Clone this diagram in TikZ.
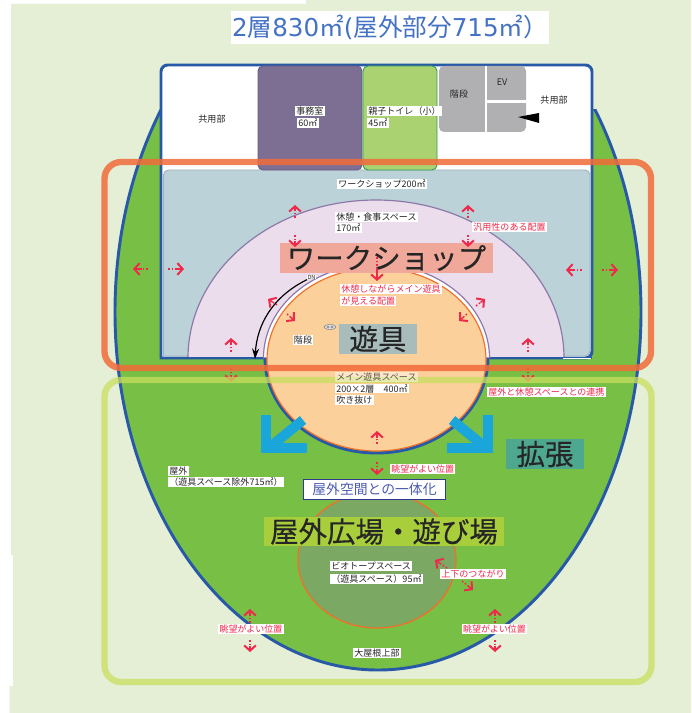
\documentclass[tikz,border=0pt]{standalone}
\usepackage{fontspec}
\setmainfont{Noto Sans CJK JP}
\newfontfamily\bigfont[FakeBold=0.35]{Noto Sans CJK JP}
\newfontfamily\titlelatin{DejaVu Sans}
\usetikzlibrary{arrows.meta,calc}
\definecolor{paleground}{HTML}{E4EFD5}
\definecolor{lawn}{HTML}{78BF45}
\definecolor{roofblue}{HTML}{2858A8}
\definecolor{arrowred}{HTML}{F0294B}
\definecolor{playorange}{HTML}{FBD09B}
\definecolor{ringorange}{HTML}{F0702A}
\definecolor{restpurple}{HTML}{EBDDEC}
\definecolor{ringpurple}{HTML}{8B78A8}
\definecolor{shopblue}{HTML}{BBD2D9}
\definecolor{growcyan}{HTML}{1BA6DB}
\begin{document}
\begin{tikzpicture}[x=0.03cm,y=-0.03cm]

    \tikzstyle{smalltext}=[fill=white,inner xsep=1pt,inner ysep=0.6pt,text=black!85,font=\fontsize{7.7pt}{8pt}\selectfont]
    \tikzstyle{redtext}=[smalltext,text=arrowred]
    \tikzstyle{bigtext}=[inner sep=0pt,text=black!85,font=\bigfont\fontsize{24.3pt}{26pt}\selectfont]
    \tikzstyle{redtail}=[draw=arrowred,line width=1.25pt,dash pattern=on 1.4pt off 1.6pt]
    \tikzstyle{redhead}=[draw=arrowred,line width=1.25pt,-{Straight Barb[length=4.5pt,width=10pt,line width=1.7pt]}]
    \tikzstyle{growarrow}=[draw=growcyan,line width=0.3cm]
    \tikzstyle{room}=[rounded corners=0.15cm,line width=0.8pt]

    \useasboundingbox (0,0) rectangle (691,713);
    \fill[white] (0,0) rectangle (691,713);
    % ground
    \fill[paleground] (11,4) -- (306,4) -- (306,0) -- (691,0) -- (691,713) -- (9.5,713) -- (9.5,686) -- (13,686) -- (13,555) -- (11,555) -- cycle;

    % roof and building
    \begin{scope}
        \clip (0,110) rectangle (691,713);
        \draw[fill=lawn,draw=roofblue,line width=2.5pt] (378,312) ellipse [x radius=263,y radius=358];
    \end{scope}
    \draw[fill=white,draw=roofblue,line width=2.5pt] (161,358) [rounded corners=0.2cm] -- (161,65) -- (592,65) -- (592,358) [sharp corners] -- cycle;

    % rooms
    \draw[room,fill=shopblue,draw=shopblue!85!black] (163.5,356) -- (163.5,170) -- (590,170) -- (590,356) [sharp corners] -- cycle;
    \draw[room,fill={rgb,255:red,125;green,111;blue,148},draw={rgb,255:red,105;green,92;blue,130}] (258,66) rectangle (362,170);
    \draw[room,fill={rgb,255:red,170;green,210;blue,113},draw={rgb,255:red,47;green,158;blue,85}] (363,66) rectangle (437,170);
    \fill[rounded corners=0.15cm,fill={rgb,255:red,176;green,176;blue,179}] (439,66) rectangle (526,132);
    \draw[white,line width=2pt] (486,66) -- (486,132) (486,101.5) -- (526,101.5);
    \fill[black] (518,117) -- (539,113) -- (539,123) -- cycle;

    % rest space and play space
    \draw[fill=restpurple,draw=ringpurple,line width=1pt] (188,358) arc [start angle=180,end angle=360,x radius=188,y radius=158] -- cycle;
    \draw[draw=roofblue,line width=2.5pt] (161,358) -- (265,358) (488,358) -- (592,358);
    \draw[white,line width=1pt] (563,358.5) -- (591,358.5);
    \draw[fill=white,draw=ringpurple,line width=1pt] (263.5,358) arc [start angle=180,end angle=360,x radius=113,y radius=94] -- cycle;
    \draw[draw=roofblue,line width=2.5pt] (265,358) arc [start angle=180,end angle=0,x radius=111.5,y radius=95];
    \draw[fill=playorange,draw=ringorange,line width=1pt] (376.5,359.5) ellipse [x radius=109.5,y radius=91.5];

    % biotope
    \draw[fill={rgb,255:red,123;green,168;blue,98},draw=ringorange,line width=1.1pt] (377,560) ellipse [x radius=79,y radius=68];

    % expansion arrows
    \draw[growarrow] (303,420) -- (270,447);
    \draw[growarrow] (265.5,415) -- (265.5,447.5) -- (307,447.5);
    \draw[growarrow] (452,420) -- (485,447);
    \draw[growarrow] (488,415) -- (488,447.5) -- (447,447.5);

    % title and labels
    \node[fill=white,inner sep=0pt,minimum width=9.54cm,minimum height=0.99cm,text={rgb,255:red,68;green,114;blue,196},font=\fontsize{21pt}{23pt}\selectfont] (Title) at (390,27.5) {{\titlelatin 2}層{\titlelatin 830}㎡{\titlelatin (}屋外部分{\titlelatin 715}㎡）};
    \node[smalltext,fill=none] (SharedLeft) at (212,119) {共用部};
    \node[smalltext,anchor=west] (OfficeName) at (295,111) {事務室};
    \node[smalltext,anchor=west] (OfficeArea) at (297,123) {60㎡};
    \node[smalltext,anchor=west] (ToiletName) at (367,111) {親子トイレ（小）};
    \node[smalltext,anchor=west] (ToiletArea) at (367,123) {45㎡};
    \node[smalltext,fill=none] (StairsTop) at (459,94) {階段};
    \node[smalltext,fill=none] (Lift) at (502,82) {EV};
    \node[smalltext,fill=none] (SharedRight) at (554,100) {共用部};
    \node[smalltext] (ShopName) at (382,184) {ワークショップ200㎡};
    \node[smalltext,anchor=west] (RestName) at (335,217) {休憩・食事スペース};
    \node[smalltext,anchor=west] (RestArea) at (335,228) {170㎡};
    \node[redtext,anchor=west] (Flexible) at (472,227) {汎用性のある配置};
    \node[redtext,anchor=west] (ViewA) at (340,289) {休憩しながらメイン遊具};
    \node[redtext,anchor=west] (ViewB) at (340,301) {が見える配置};
    \node[smalltext] (StairsPlay) at (303,340) {階段};
    \node[smalltext,anchor=west] (PlayArea) at (335,388.5) {200×2層　400㎡};
    \node[smalltext,anchor=west] (PlayVoid) at (335,400) {吹き抜け};
    \node[redtext,anchor=west] (Link) at (487,392) {屋外と休憩スペースとの連携};
    \node[redtext,anchor=west] (GoodViewTop) at (390,469) {眺望がよい位置};
    \node[smalltext,anchor=west] (OutName) at (168,471) {屋外};
    \node[smalltext,anchor=west] (OutArea) at (168,482) {（遊具スペース除外715㎡）};
    \node[smalltext,anchor=west] (BioName) at (330,566) {ビオトープスペース};
    \node[smalltext,anchor=west] (BioArea) at (330,579) {（遊具スペース）95㎡};
    \node[draw={rgb,255:red,46;green,58;blue,140},line width=1.2pt,fill=white,inner sep=0pt,minimum width=4.26cm,minimum height=0.61cm,text={rgb,255:red,74;green,91;blue,176},font=\fontsize{11.8pt}{13pt}\selectfont] (OneSpace) at (374.5,489.5) {屋外空間との一体化};

    % big titles
    \node[bigtext,fill={rgb,255:red,239;green,168;blue,153},minimum width=6.4cm,minimum height=0.9cm] (BigShop) at (386.5,258) {ワークショップ};
    \node[bigtext,fill={rgb,255:red,167;green,188;blue,187},minimum width=2.36cm,minimum height=0.9cm] (BigPlay) at (378,339) {遊具};
    \node[bigtext,fill={rgb,255:red,78;green,168;blue,144},minimum width=2.34cm,minimum height=0.9cm] (BigGrow) at (545,454) {拡張};
    \node[bigtext,fill={rgb,255:red,168;green,206;blue,60},minimum width=7.2cm,minimum height=0.87cm] (BigOut) at (384,531.5) {屋外広場・遊び場};
    \node[smalltext,inner sep=0.3pt,font=\fontsize{4.8pt}{5pt}\selectfont] (Down) at (311.5,277) {DN};

    % small chain mark
    \draw[fill=black!10,draw=black!50,line width=0.4pt] (330,327) ellipse [x radius=6,y radius=2.5];
    \draw[draw=black!50,line width=0.4pt] (328,327) circle [radius=1.3] (332,327) circle [radius=1.3];

    % red arrows
    \foreach \xa/\ya/\xb/\yb in {295/218/295/205,468/218/468/205,295/235/295/247,468/235/468/247,
        377/257/377/281,277/305/268/299,287/314/295/321,476/306/485/299,467/314/459/321,
        231/352/231/338,528/352/528/338,231/368/231/382,528/368/528/382,377/444/377/431,377/462/377/475,
        148/269/133/269,168/269/184/269,582/270/566/270,602/270/618/270,
        447/568/435/560,462/581/473/590,250/623/250/609,250/640/250/652,495/623/495/609,495/640/495/652} {
        \draw[redtail] (\xa,\ya) -- ($(\xa,\ya)!0.5!(\xb,\yb)$);
        \draw[redhead] ($(\xa,\ya)!0.5!(\xb,\yb)$) -- (\xb,\yb);
    }
    \node[redtext] (UpDown) at (473,574) {上下のつながり};
    \node[redtext] (GoodViewLeft) at (251,629) {眺望がよい位置};
    \node[redtext] (GoodViewRight) at (494.5,629) {眺望がよい位置};
    \node[smalltext] (BigRoof) at (377,653) {大屋根上部};

    % curved way down
    \draw[black,line width=1pt,-{Stealth[length=9pt,width=6pt]}] (Down.south west) .. controls (272,297) and (257,325) .. (255,359);

    % bands
    \draw[draw={rgb,255:red,242;green,107;blue,58},opacity=0.85,line width=0.19cm,rounded corners=0.5cm] (104.5,162) rectangle (651,368);
    \draw[draw={rgb,255:red,200;green,222;blue,94},opacity=0.75,line width=0.19cm,rounded corners=0.5cm] (104.5,380) rectangle (651.5,682);
    \node[smalltext,anchor=west,fill opacity=0.45,text opacity=0.75] (PlayName) at (335,377) {メイン遊具スペース};

\end{tikzpicture}
\end{document}
